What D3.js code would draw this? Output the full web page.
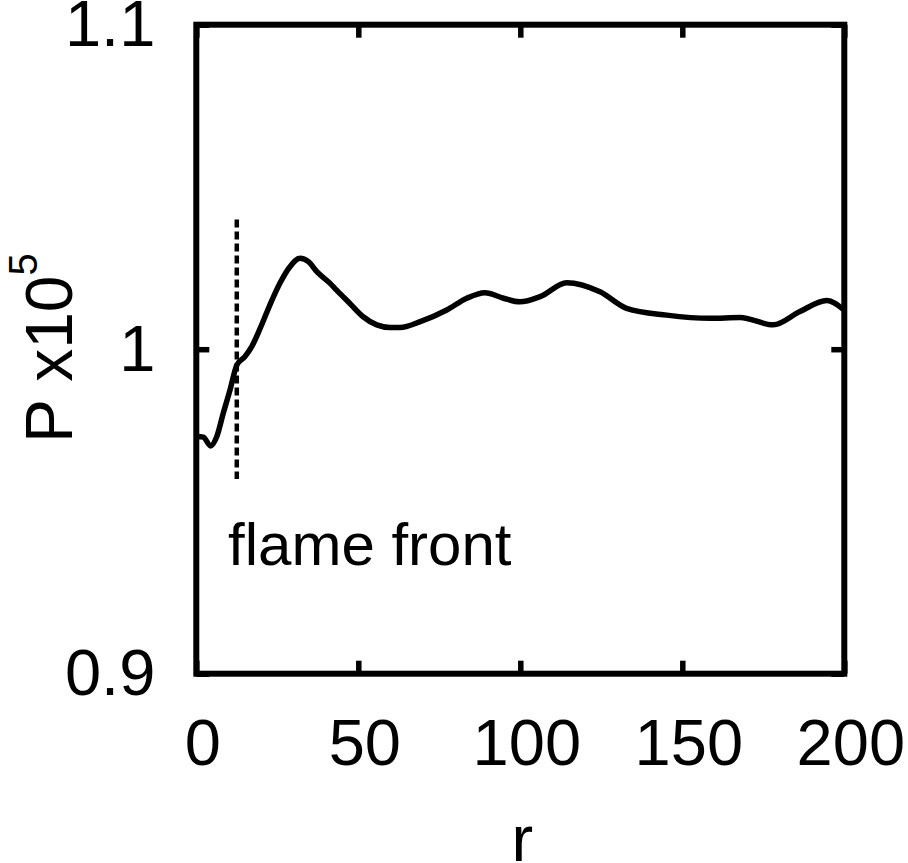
<!DOCTYPE html>
<html>
<head>
<meta charset="utf-8">
<script src="https://cdn.jsdelivr.net/npm/d3@7"></script>
<style>
  body { margin: 0; background: white; }
  text { font-family: "Liberation Sans", Arial, sans-serif; fill: black; }
</style>
</head>
<body>
<div id="chart"></div>
<script>
// pressure profile
var radius = [0, 2.2, 4.4, 6.3, 8.3, 10.4, 12.5, 15.0, 17.1, 19.7, 22.7, 25.8, 28.9, 32.0, 34.6,
              37.2, 41.3, 43.3, 47.4, 51.5, 55.7, 59.8, 62.9, 69.1, 77.3, 83.5, 89.1, 94.8, 99.9,
              106.1, 114.3, 124.6, 132.8, 145.2, 158.6, 167.8, 178.1, 186.3, 194.6, 199.7];
var pressure = [0.9731, 0.9729, 0.9702, 0.9730, 0.9802, 0.9874, 0.9951, 0.9977, 1.0008, 1.0064,
                1.0136, 1.0203, 1.0254, 1.0280, 1.0270, 1.0239, 1.0203, 1.0182, 1.0141, 1.0100,
                1.0075, 1.0067, 1.0067, 1.0085, 1.0121, 1.0157, 1.0174, 1.0157, 1.0146, 1.0162,
                1.0205, 1.0177, 1.0126, 1.0105, 1.0095, 1.0098, 1.0075, 1.0116, 1.0150, 1.0123];
var xTicks = [0, 50, 100, 150, 200];
var yTicks = [0.9, 1.0, 1.1];
var yTickLabels = ["0.9", "1", "1.1"];
var frontR = 12.5;
var frontRange = [0.96, 1.04];
var frontLabel = "flame front";
var frontLabelPos = [9.8, 0.9335];

var W = 908, H = 863;
var margin = {top: 24.7, right: 63.7, bottom: 189.3, left: 196.3};
var w = W - margin.left - margin.right;
var h = H - margin.top - margin.bottom;

var svg = d3.select("#chart").append("svg")
    .attr("width", W)
    .attr("height", H);
var g = svg.append("g")
    .attr("transform", "translate(" + margin.left + "," + margin.top + ")");

var x = d3.scaleLinear().domain([0, 200]).range([0, w]);
var y = d3.scaleLinear().domain([0.9, 1.1]).range([h, 0]);

// axes, ticks pointing inward on all four sides
function styleAxis(a, fontSize){
    a.select(".domain").remove();
    a.selectAll(".tick line").attr("stroke", "black").attr("stroke-width", 5.5);
    a.selectAll(".tick text").attr("font-size", fontSize).attr("font-family", "Liberation Sans, Arial, sans-serif");
}

var xb = g.append("g").attr("transform", "translate(0," + h + ")")
    .call(d3.axisBottom(x).tickValues(xTicks).tickSize(-13).tickPadding(45));
styleAxis(xb, 65);
xb.selectAll(".tick text").attr("dx", 6);

var xt = g.append("g")
    .call(d3.axisTop(x).tickValues(xTicks).tickSize(-13).tickFormat(""));
styleAxis(xt, 0);

var yl = g.append("g")
    .call(d3.axisLeft(y).tickValues(yTicks).tickSize(-13).tickPadding(41)
        .tickFormat(function(d, i){ return yTickLabels[i]; }));
styleAxis(yl, 65);

var yr = g.append("g").attr("transform", "translate(" + w + ",0)")
    .call(d3.axisRight(y).tickValues(yTicks).tickSize(-13).tickFormat(""));
styleAxis(yr, 0);

// the curve
var data = radius.map(function(r, i){ return [r, pressure[i]]; });
var line = d3.line()
    .x(function(d){ return x(d[0]); })
    .y(function(d){ return y(d[1]); })
    .curve(d3.curveMonotoneX);
g.append("path")
    .datum(data)
    .attr("d", line)
    .attr("fill", "none")
    .attr("stroke", "black")
    .attr("stroke-width", 5.5)
    .attr("stroke-linejoin", "round");

// flame front marker
g.append("line")
    .attr("x1", x(frontR)).attr("x2", x(frontR))
    .attr("y1", y(frontRange[1])).attr("y2", y(frontRange[0]))
    .attr("stroke", "black")
    .attr("stroke-width", 4.5)
    .attr("stroke-dasharray", "8,4");

g.append("text")
    .attr("x", x(frontLabelPos[0]))
    .attr("y", y(frontLabelPos[1]))
    .attr("font-size", 60)
    .text(frontLabel);

// frame
g.append("rect")
    .attr("width", w).attr("height", h)
    .attr("fill", "none")
    .attr("stroke", "black")
    .attr("stroke-width", 6);

// axis titles
svg.append("text")
    .attr("x", margin.left + w / 2 + 2)
    .attr("y", 861)
    .attr("text-anchor", "middle")
    .attr("font-size", 65)
    .text("r");

var ylab = svg.append("text")
    .attr("transform", "translate(72,443) rotate(-90)")
    .attr("font-size", 66);
ylab.append("tspan").text("P x10");
ylab.append("tspan").attr("font-size", 40).attr("dy", -35).text("5");
</script>
</body>
</html>
